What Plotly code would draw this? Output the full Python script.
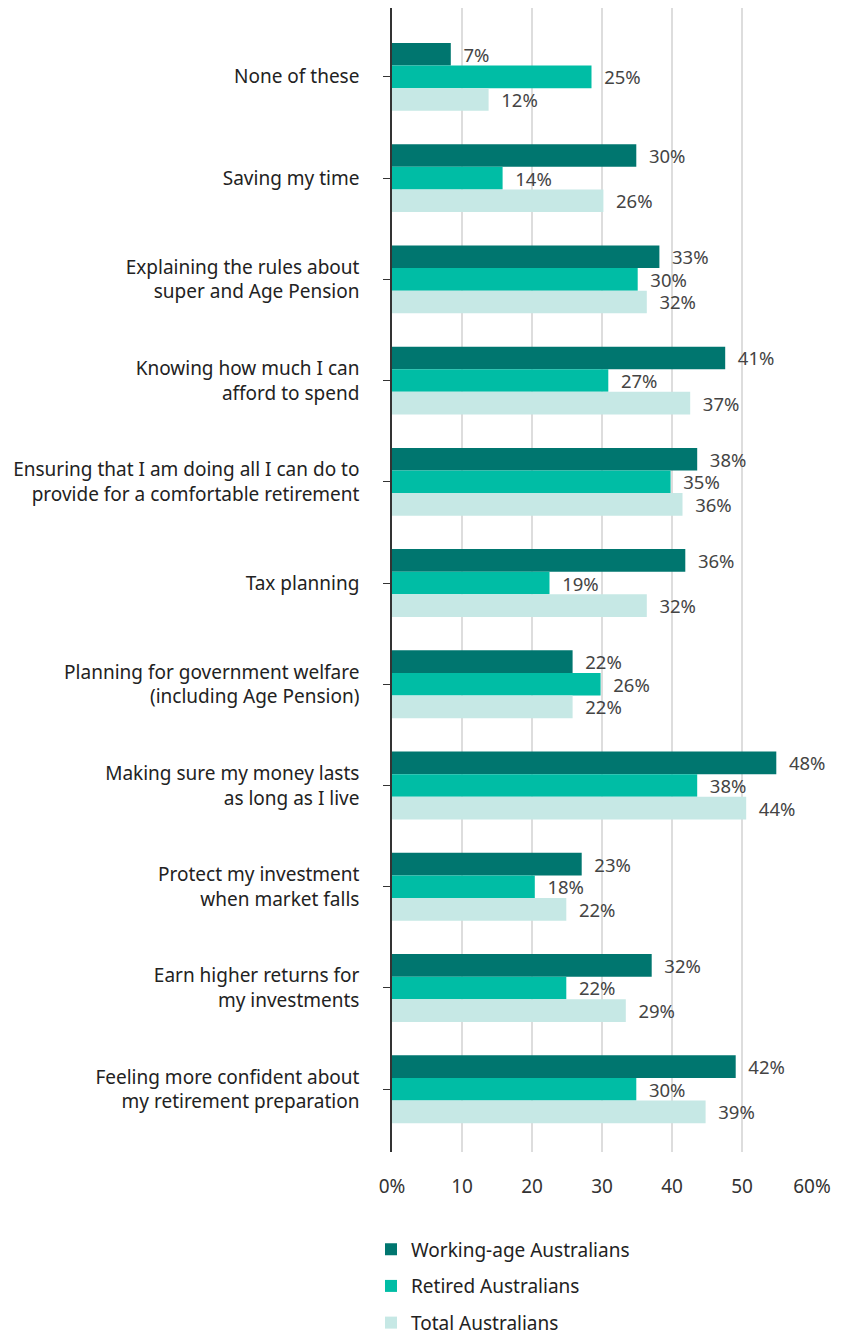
import plotly.graph_objects as go

categories = [
    "None of these",
    "Saving my time",
    "Explaining the rules about<br>super and Age Pension",
    "Knowing how much I can<br>afford to spend",
    "Ensuring that I am doing all I can do to<br>provide for a comfortable retirement",
    "Tax planning",
    "Planning for government welfare<br>(including Age Pension)",
    "Making sure my money lasts<br>as long as I live",
    "Protect my investment<br>when market falls",
    "Earn higher returns for<br>my investments",
    "Feeling more confident about<br>my retirement preparation",
]

series_names = ["Working-age Australians", "Retired Australians", "Total Australians"]

# bar lengths as drawn on the axis
working_bar = [8.4, 34.9, 38.2, 47.6, 43.6, 41.9, 25.8, 54.9, 27.1, 37.1, 49.1]
retired_bar = [28.5, 15.8, 35.1, 30.9, 39.8, 22.5, 29.8, 43.6, 20.4, 24.9, 34.9]
total_bar = [13.8, 30.2, 36.4, 42.6, 41.5, 36.4, 25.8, 50.6, 24.9, 33.4, 44.8]

# printed value labels
working_lbl = [7, 30, 33, 41, 38, 36, 22, 48, 23, 32, 42]
retired_lbl = [25, 14, 30, 27, 35, 19, 26, 38, 18, 22, 30]
total_lbl = [12, 26, 32, 37, 36, 32, 22, 44, 22, 29, 39]

x_tickvals = [0, 10, 20, 30, 40, 50, 60]
x_ticktext = ["0%", "10", "20", "30", "40", "50", "60%"]

colors = ["#00766F", "#00BDA5", "#C6E8E5"]

FONT = "Noto Sans"
FS = 19
ypos = list(range(len(categories)))

fig = go.Figure()
for i, (name, vals, lbls) in enumerate(zip(series_names,
                                           [working_bar, retired_bar, total_bar],
                                           [working_lbl, retired_lbl, total_lbl])):
    fig.add_trace(go.Bar(
        name=name,
        y=ypos,
        x=vals,
        orientation="h",
        marker=dict(color=colors[i], line=dict(width=0)),
        text=["\u00a0\u00a0" + f"{v}%" for v in lbls],
        textposition="outside",
        constraintext="none",
        textfont=dict(family=FONT, size=18.5, color="#444444"),
        cliponaxis=False,
        legendgroup=f"g{i}",
        hoverinfo="skip",
    ))

fig.update_layout(
    width=851,
    height=1336,
    barmode="group",
    bargap=0.33,
    bargroupgap=0,
    plot_bgcolor="white",
    paper_bgcolor="white",
    margin=dict(l=392, r=39, t=8, b=184, autoexpand=False),
    font=dict(family=FONT, size=FS, color="#222222"),
    xaxis=dict(
        range=[0, 60],
        tickvals=x_tickvals,
        ticktext=x_ticktext,
        showgrid=True,
        gridcolor="#DDDDDD",
        gridwidth=1.5,
        zeroline=False,
        showline=False,
        ticks="outside",
        ticklen=17,
        tickcolor="rgba(0,0,0,0)",
        tickfont=dict(family=FONT, size=FS, color="#333333"),
    ),
    yaxis=dict(
        range=[10.62, -0.68],
        tickvals=ypos,
        ticktext=categories,
        showgrid=False,
        zeroline=False,
        showline=True,
        linecolor="#333333",
        linewidth=1.5,
        ticks="outside",
        ticklen=7,
        tickcolor="#333333",
        tickwidth=1.2,
        ticklabelstandoff=20,
        tickfont=dict(family=FONT, size=FS, color="#222222"),
    ),
    showlegend=True,
    legend=dict(
        orientation="v",
        x=-0.050,
        xanchor="left",
        y=-0.0685,
        yanchor="top",
        tracegroupgap=9,
        font=dict(family=FONT, size=FS, color="#222222"),
        bgcolor="rgba(0,0,0,0)",
    ),
)

fig.write_html("out.html")
